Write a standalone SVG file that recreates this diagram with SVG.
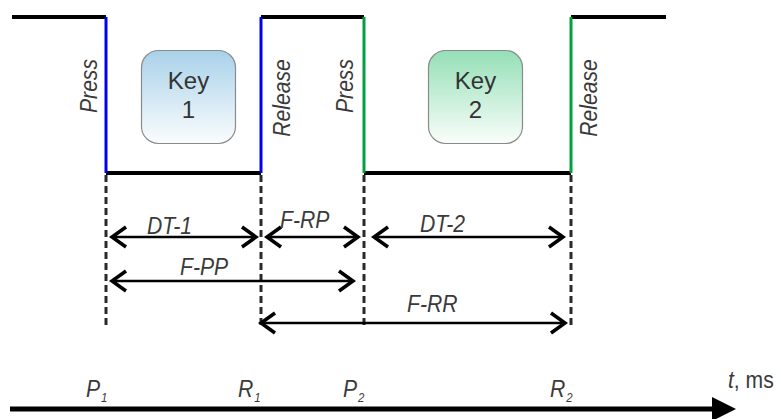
<svg xmlns="http://www.w3.org/2000/svg" width="781" height="419" viewBox="0 0 781 419">
  <defs>
    <linearGradient id="gradBlue" x1="0" y1="0" x2="0" y2="1">
      <stop offset="0" stop-color="#a9d1ea"/>
      <stop offset="1" stop-color="#fbfdfe"/>
    </linearGradient>
    <linearGradient id="gradGreen" x1="0" y1="0" x2="0" y2="1">
      <stop offset="0" stop-color="#94dfb6"/>
      <stop offset="1" stop-color="#fafefb"/>
    </linearGradient>
    <marker id="chev" markerUnits="userSpaceOnUse" viewBox="-18 -14 22 28" refX="0" refY="0" markerWidth="22" markerHeight="28" orient="auto-start-reverse">
      <path d="M-14,-10 L0,0 L-14,10" fill="none" stroke="#000" stroke-width="3.5" stroke-linejoin="miter"/>
    </marker>
  </defs>
  <style>
    .sig { fill: none; stroke: #000; stroke-width: 4; }
    .edge-blue { stroke: #0000ee; stroke-width: 3; }
    .edge-green { stroke: #00a040; stroke-width: 3; }
    .dash { stroke: #2a2a2a; stroke-width: 3; stroke-dasharray: 7 4; }
    .dim { stroke: #000; stroke-width: 2.5; marker-start: url(#chev); marker-end: url(#chev); }
    .lbl { font-family: "Liberation Sans", Arial, sans-serif; font-style: italic; font-size: 24px; fill: #3a3a3a; }
    .key { stroke: #8a8a8a; stroke-width: 1.2; }
    .keytxt { font-family: "Liberation Sans", Arial, sans-serif; font-size: 24px; fill: #333; text-anchor: middle; }
    .sub { font-size: 13px; }
  </style>

  <!-- keystroke signal levels -->
  <g id="signal">
    <polyline class="sig" points="12,17 106,17"/>
    <polyline class="sig" points="106,173 261,173"/>
    <polyline class="sig" points="261,17 364,17"/>
    <polyline class="sig" points="364,173 571,173"/>
    <polyline class="sig" points="571,17 666,17"/>
  </g>

  <!-- press / release edges -->
  <g id="edges">
    <line class="edge-blue" x1="106" y1="17" x2="106" y2="173"/>
    <line class="edge-blue" x1="261" y1="17" x2="261" y2="173"/>
    <line class="edge-green" x1="364" y1="17" x2="364" y2="173"/>
    <line class="edge-green" x1="571" y1="17" x2="571" y2="173"/>
  </g>

  <!-- edge labels, read bottom to top -->
  <g id="edge-labels" class="lbl" text-anchor="middle">
    <text transform="translate(97,86) rotate(-90) scale(0.88,1)">Press</text>
    <text transform="translate(290,98) rotate(-90) scale(0.88,1)">Release</text>
    <text transform="translate(353,86) rotate(-90) scale(0.88,1)">Press</text>
    <text transform="translate(597,98) rotate(-90) scale(0.88,1)">Release</text>
  </g>

  <g id="key1">
    <rect class="key" x="141.5" y="50.5" width="94" height="93" rx="17" fill="url(#gradBlue)"/>
    <text class="keytxt" x="188.5" y="89">Key</text>
    <text class="keytxt" x="188.5" y="118">1</text>
  </g>

  <g id="key2">
    <rect class="key" x="428.5" y="50.5" width="94" height="93" rx="17" fill="url(#gradGreen)"/>
    <text class="keytxt" x="475.5" y="89">Key</text>
    <text class="keytxt" x="475.5" y="118">2</text>
  </g>

  <!-- event guides and interval dimensions -->
  <g id="connectors">
    <line class="dash" x1="106" y1="175" x2="106" y2="328"/>
    <line class="dash" x1="261" y1="175" x2="261" y2="328"/>
    <line class="dash" x1="364" y1="175" x2="364" y2="328"/>
    <line class="dash" x1="571" y1="175" x2="571" y2="328"/>

    <line class="dim" x1="112" y1="237" x2="256" y2="237"/>
    <line class="dim" x1="267" y1="237" x2="358" y2="237"/>
    <line class="dim" x1="374" y1="237" x2="563" y2="237"/>
    <line class="dim" x1="112" y1="281" x2="353" y2="281"/>
    <line class="dim" x1="261" y1="323" x2="565" y2="323"/>
  </g>

  <g id="interval-labels" class="lbl">
    <text transform="translate(147,234) scale(0.88,1)">DT-1</text>
    <text transform="translate(280,228) scale(0.88,1)">F-RP</text>
    <text transform="translate(420,232) scale(0.88,1)">DT-2</text>
    <text transform="translate(180,275) scale(0.88,1)">F-PP</text>
    <text transform="translate(407,312) scale(0.88,1)">F-RR</text>
  </g>

  <!-- time axis -->
  <g id="axis">
    <line x1="10" y1="409" x2="714" y2="409" stroke="#000" stroke-width="5"/>
    <polygon points="712,397 736,409 712,421" fill="#000"/>
  </g>

  <g id="axis-labels" class="lbl">
    <text transform="translate(86,397) scale(0.88,1)">P<tspan class="sub" dx="1" dy="5">1</tspan></text>
    <text transform="translate(238,397) scale(0.88,1)">R<tspan class="sub" dx="1" dy="5">1</tspan></text>
    <text transform="translate(343,397) scale(0.88,1)">P<tspan class="sub" dx="1" dy="5">2</tspan></text>
    <text transform="translate(550,397) scale(0.88,1)">R<tspan class="sub" dx="1" dy="5">2</tspan></text>
    <text transform="translate(728,388) scale(0.88,1)">t<tspan font-style="normal">, ms</tspan></text>
  </g>
</svg>
